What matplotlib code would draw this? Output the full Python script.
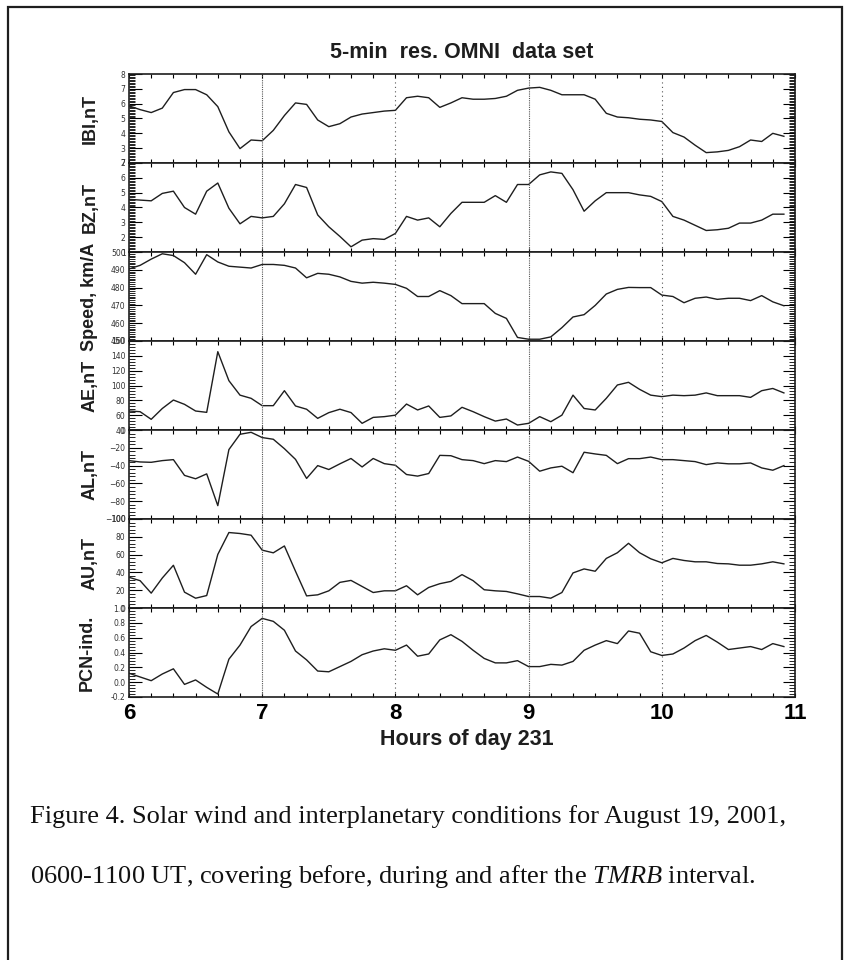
import numpy as np
import matplotlib
matplotlib.use("Agg")
import matplotlib.pyplot as plt
from matplotlib.ticker import MultipleLocator, AutoMinorLocator
from matplotlib.patches import Rectangle

# 5-min OMNI values, 06:00 .. 10:55 UT, day 231
hours = 6 + np.arange(60) / 12.0

b_total = [5.85, 5.6, 5.4, 5.7, 6.75, 6.95, 6.95, 6.6, 5.8, 4.1, 2.97, 3.55,
           3.5, 4.2, 5.2, 6.05, 5.95, 4.9, 4.45, 4.65, 5.1, 5.3, 5.4, 5.5,
           5.55, 6.4, 6.5, 6.4, 5.75, 6.05, 6.4, 6.3, 6.3, 6.35, 6.5, 6.9,
           7.05, 7.1, 6.9, 6.6, 6.6, 6.6, 6.3, 5.35, 5.1, 5.05, 4.95, 4.9,
           4.8, 4.05, 3.75, 3.2, 2.7, 2.75, 2.85, 3.1, 3.55, 3.45, 4.0, 3.8]
bz = [4.55, 4.5, 4.45, 4.95, 5.1, 4.0, 3.55, 5.1, 5.65, 3.95, 2.9, 3.4,
      3.3, 3.4, 4.25, 5.55, 5.35, 3.5, 2.7, 2.05, 1.35, 1.8, 1.9, 1.85,
      2.25, 3.4, 3.15, 3.3, 2.7, 3.6, 4.35, 4.35, 4.35, 4.8, 4.35, 5.55,
      5.55, 6.2, 6.4, 6.3, 5.2, 3.75, 4.45, 5.0, 5.0, 5.0, 4.85, 4.75,
      4.4, 3.4, 3.15, 2.8, 2.45, 2.5, 2.6, 2.95, 2.95, 3.15, 3.55, 3.55]
speed = [490.5, 492.5, 496, 499, 498, 494, 487.5, 498.5, 494.4, 492, 491.5, 491,
         493, 493, 492.5, 491, 485.5, 488, 487.5, 486, 483.5, 482.5, 483, 482.5,
         481.8, 479.6, 475, 475, 478.3, 475.5, 471, 471, 471, 465.5, 462.7, 452,
         451, 451, 452.3, 457.5, 463.5, 464.8, 470, 476.4, 479, 480.1, 480, 480,
         475.8, 475, 471.5, 474, 474.7, 473.4, 474, 474, 472.7, 475.5, 472, 469.8]
ae = [65.6, 64.7, 54.4, 69, 80.4, 74.6, 65.6, 63.8, 145.6, 106.5, 87, 82.7,
      72.8, 72.8, 93, 72.4, 68, 55.7, 63.4, 68, 63.5, 49, 57, 58,
      60, 75, 67, 72.4, 57, 59, 70.6, 64.7, 58, 52, 54.8, 46.7,
      49, 58, 51.2, 60, 87, 69, 67, 82.7, 100.7, 104.3, 94.8, 87,
      85, 87, 86.3, 87, 90, 86.3, 86.3, 86.3, 84, 93, 96, 90]
al = [-34.4, -35.9, -36.3, -34.4, -33.3, -51, -54.8, -49.3, -85, -22, -4.8, -2.6,
      -8.5, -10.4, -21, -33, -54.4, -40, -44.4, -38, -32, -41.5, -32, -37.8,
      -39.6, -50, -51.8, -48.9, -28.5, -28.9, -33.3, -34.4, -37.8, -34.4, -35.5, -30.4,
      -35.2, -46.3, -42.6, -40.7, -48, -25, -26.9, -28.5, -37.8, -32.2, -32.2, -30.4,
      -33.3, -33.3, -34.4, -35.5, -38.9, -37, -38, -38, -37, -42.6, -45.2, -40]
au = [34.5, 30.7, 16.7, 33.7, 48, 17.8, 11, 14, 60.2, 84.8, 83.7, 81.8,
      65, 62, 69.7, 41.3, 13.6, 14.8, 19.3, 28.8, 31, 24.2, 17.4, 19.3,
      19.3, 25, 14.8, 23.1, 27.3, 29.9, 37.5, 30.7, 20.5, 19.3, 18.6, 15.9,
      12.9, 12.9, 11, 17.4, 39.4, 43.9, 41.3, 55.7, 62.1, 72.7, 62.1, 55.3,
      50.8, 55.7, 53.4, 51.9, 51.9, 50, 49.6, 48.1, 48.1, 49.6, 51.9, 49.6]
pcn = [0.12, 0.07, 0.02, 0.11, 0.18, -0.03, 0.03, -0.07, -0.16, 0.31, 0.5, 0.75,
       0.86, 0.82, 0.7, 0.42, 0.3, 0.15, 0.14, 0.21, 0.28, 0.37, 0.42, 0.45,
       0.43, 0.5, 0.35, 0.38, 0.57, 0.64, 0.55, 0.43, 0.32, 0.26, 0.26, 0.29,
       0.21, 0.21, 0.24, 0.23, 0.28, 0.43, 0.5, 0.56, 0.52, 0.69, 0.66, 0.41,
       0.36, 0.38, 0.46, 0.56, 0.63, 0.54, 0.44, 0.46, 0.48, 0.44, 0.52, 0.48]

series = [b_total, bz, speed, ae, al, au, pcn]
ylabels = ["IBI,nT", "BZ,nT", "Speed, km/A", "AE,nT", "AL,nT", "AU,nT", "PCN-ind."]
ylims = [(2, 8), (1, 7), (450, 500), (40, 160), (-100, 0), (0, 100), (-0.2, 1.0)]
ysteps = [1, 1, 10, 20, 20, 20, 0.2]
yminor = [10, 10, 10, 5, 5, 5, 5]
xticks = [6, 7, 8, 9, 10, 11]

title = "5-min  res. OMNI  data set"
xlabel = "Hours of day 231"
caption1 = "Figure 4. Solar wind and interplanetary conditions for August 19, 2001,"
caption2 = r"0600-1100 UT, covering before, during and after the $\mathit{TMRB}$ interval."

sans = "Liberation Sans"
plt.rcParams["mathtext.fontset"] = "custom"
plt.rcParams["mathtext.rm"] = "Liberation Serif"
plt.rcParams["mathtext.it"] = "Liberation Serif:italic"

W, H = 851, 960
fig = plt.figure(figsize=(W / 100, H / 100), dpi=100)
fig.patch.set_facecolor("white")

left, right = 129 / W, 795 / W
top, panel_h = 74, 89
ink = "#1e1e1e"

for i, (vals, lab, lim, step, mnr) in enumerate(zip(series, ylabels, ylims, ysteps, yminor)):
    y0 = 1 - (top + panel_h * (i + 1)) / H
    ax = fig.add_axes([left, y0, right - left, panel_h / H])
    ax.plot(hours, vals, color=ink, lw=1.0)
    ax.set_xlim(6, 11)
    ax.set_ylim(*lim)
    ax.yaxis.set_major_locator(MultipleLocator(step))
    ax.yaxis.set_minor_locator(AutoMinorLocator(mnr))
    ax.xaxis.set_major_locator(MultipleLocator(1))
    ax.xaxis.set_minor_locator(MultipleLocator(1 / 6))
    ax.tick_params(axis="y", which="major", direction="in", left=True, right=True,
                   length=9, width=0.8, labelsize=5.5, pad=2.5, labelcolor="#333333")
    ax.tick_params(axis="y", which="minor", direction="in", left=True, right=True,
                   length=4.5, width=0.6)
    ax.tick_params(axis="x", which="both", direction="in", top=True, bottom=True,
                   length=2.8, width=0.8)
    for sp in ax.spines.values():
        sp.set_linewidth(1.2)
        sp.set_color(ink)
    for h in (7, 9):
        ax.axvline(h, color="#555555", lw=0.8, ls=(0, (1, 1)))
    for h in (8, 10):
        ax.axvline(h, color="#555555", lw=0.8, ls=(0, (1, 3)))
    if step < 1:
        ticks = np.arange(lim[0], lim[1] + 1e-9, step)
        ax.set_yticks(ticks)
        ax.set_yticklabels(["%.1f" % v for v in ticks])
    if i < len(series) - 1:
        ax.tick_params(axis="x", labelbottom=False)
    else:
        ax.set_xticks(xticks)
        ax.tick_params(axis="x", labelsize=16, pad=4)
        for t in ax.get_xticklabels():
            t.set_fontfamily(sans)
            t.set_fontweight("bold")
    fig.text((87 if i == 6 else 90) / W, 1 - (top + panel_h * (i + 0.5)) / H, lab,
             rotation=90, ha="center", va="center", fontsize=13,
             fontweight="bold", family=sans, color=ink)

fig.text(462 / W, 1 - 53 / H, title, ha="center", va="center", fontsize=15.5,
         fontweight="bold", family=sans, color=ink)
fig.text(467 / W, 1 - 740 / H, xlabel, ha="center", va="center", fontsize=15.5,
         fontweight="bold", family=sans, color=ink)
fig.text(30 / W, 1 - 817 / H, caption1, ha="left", va="center", fontsize=19,
         family="Liberation Serif", color="#111111")
fig.text(30 / W, 1 - 877 / H, caption2, ha="left", va="center", fontsize=19,
         family="Liberation Serif", color="#111111")

fig.patches.append(Rectangle((8 / W, -0.02), (842 - 8) / W, 1.02 - 7 / H,
                             transform=fig.transFigure, fill=False,
                             lw=1.6, edgecolor=ink))

fig.savefig("out.png", dpi=100)
